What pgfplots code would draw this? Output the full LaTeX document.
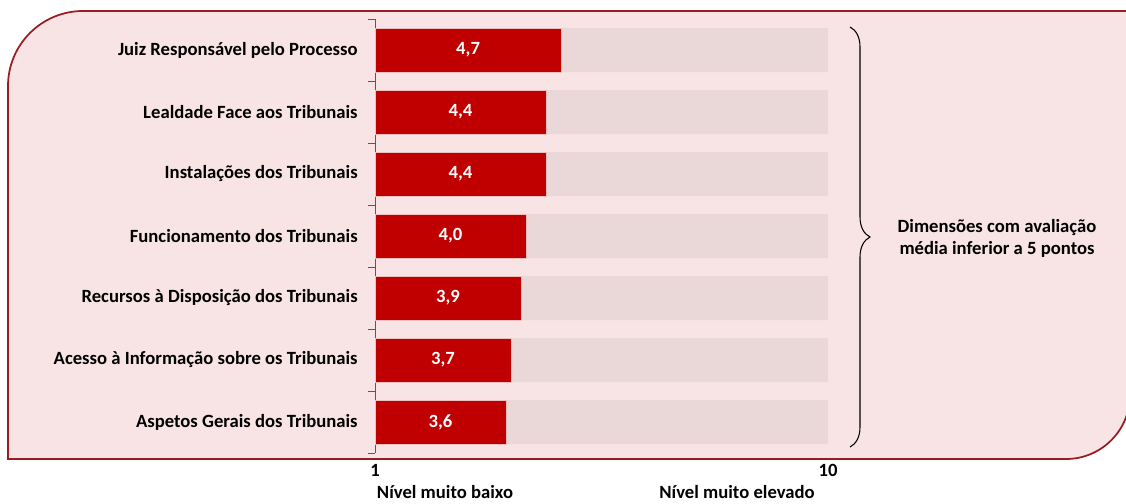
\documentclass[border=0pt]{standalone}
\usepackage{pgfplots}
\pgfplotsset{compat=1.18}
\usepackage{fontspec}
\setmainfont{Carlito}
\usetikzlibrary{decorations.pathreplacing}
\definecolor{boxfill}{HTML}{F8E4E5}
\definecolor{boxedge}{HTML}{9A1C22}
\definecolor{barred}{HTML}{C00000}
\definecolor{bargray}{HTML}{EAD8D9}
\begin{document}
\begin{tikzpicture}[x=0.75pt,y=-0.75pt,font=\fontsize{14}{16.5}\selectfont\bfseries]
\path[use as bounding box] (0,0) rectangle (1126,503);
\clip (0,0) rectangle (1126,503);
\draw[fill=boxfill, draw=boxedge, line width=1.3pt]
  (8,459) -- (8,86) arc[start angle=180,end angle=270,radius=75]
  -- (1130,11) -- (1130,395) arc[start angle=0,end angle=90,radius=64] -- cycle;
\begin{axis}[
  at={(281.25pt,-339.75pt)}, anchor=south west,
  scale only axis, width=339.75pt, height=325.5pt,
  xmin=1, xmax=10, ymin=-0.5, ymax=6.5, y dir=reverse,
  axis x line=none, axis y line=left,
  axis line style={-, draw=gray!70!black, line width=0.6pt},
  ytick={0,...,6},
  yticklabels={Juiz Responsável pelo Processo, Lealdade Face aos Tribunais, Instalações dos Tribunais, Funcionamento dos Tribunais, Recursos à Disposição dos Tribunais, Acesso à Informação sobre os Tribunais, Aspetos Gerais dos Tribunais},
  yticklabel style={font=\fontsize{14}{16.5}\selectfont\bfseries, xshift=-9.5pt},
  major tick length=0pt,
  minor ytick={-0.5,0.5,...,6.5},
  minor tick length=5pt,
  tick align=outside,
  minor tick style={draw=gray!70!black, line width=0.6pt},
  xbar, bar width=33pt,
]
\addplot[fill=bargray, draw=none, bar shift=0pt] coordinates {(10,0) (10,1) (10,2) (10,3) (10,4) (10,5) (10,6)};
\addplot[fill=barred, draw=white!75!barred, line width=0.5pt, bar shift=0pt,
  visualization depends on={x \as \rawx},
  nodes near coords={\pgfmathprintnumber[use comma,fixed,fixed zerofill,precision=1,assume math mode=true]{\pgfplotspointmeta}},
  every node near coord/.append style={anchor=center, text=white, font=\fontsize{14}{16.5}\selectfont\bfseries, xshift={-(\rawx-1)*18.875pt}},
] coordinates {(4.7,0) (4.4,1) (4.4,2) (4.0,3) (3.9,4) (3.7,5) (3.6,6)};
\end{axis}
\draw[decorate, decoration={brace, amplitude=15pt}, line width=0.8pt] (850,27) -- (850,447);
\node[align=center] at (997,238) {Dimensões com avaliação\\média inferior a 5 pontos};
\node at (375,470) {1};
\node at (828,470) {10};
\node at (445,492) {Nível muito baixo};
\node at (737,492) {Nível muito elevado};
\end{tikzpicture}
\end{document}
